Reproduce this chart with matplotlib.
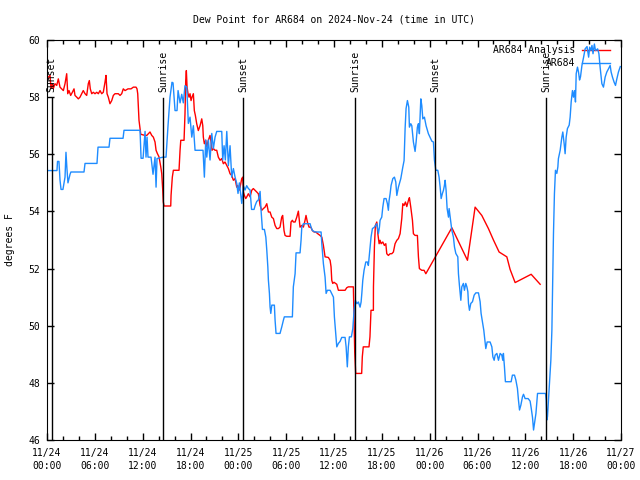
import numpy as np
import pandas as pd
import matplotlib
matplotlib.use('Agg')
import matplotlib.pyplot as plt
import matplotlib.dates as mdates
import matplotlib.transforms as mtransforms

plt.rcParams['font.family'] = ['DejaVu Sans Mono']
plt.rcParams['font.size'] = 7

start = pd.Timestamp('2024-11-24 00:00')
end = pd.Timestamp('2024-11-27 00:00')

# hours after 11/24 00:00 UTC, dew point in degrees F
analysis_h = [0.0, 0.17, 0.38, 0.5, 0.67, 0.79, 1.0, 1.22, 1.42, 1.63, 1.84, 2.05, 2.26, 2.47, 2.6,
              2.76, 2.97, 3.18, 3.39, 3.51, 3.73, 3.93, 4.14, 4.35, 4.55, 4.77, 4.98, 5.18, 5.31,
              5.43, 5.61, 5.81, 6.02, 6.24, 6.44, 6.65, 6.86, 7.06, 7.28, 7.4, 7.53, 7.69, 7.9,
              8.12, 8.32, 8.53, 8.95, 9.16, 9.37, 9.57, 9.79, 10.16, 10.54, 10.83, 11.17, 11.29,
              11.38, 11.54, 11.67, 11.76, 12.3, 12.51, 12.71, 12.92, 13.14, 13.34, 13.55, 13.68,
              13.84, 14.05, 14.27, 14.39, 14.52, 14.59, 14.68, 15.52, 15.56, 15.72, 15.85, 16.56,
              16.69, 16.78, 17.19, 17.31, 17.4, 17.48, 17.57, 17.69, 17.82, 17.94, 18.07, 18.19,
              18.36, 18.48, 18.61, 18.78, 18.98, 19.2, 19.41, 19.54, 19.61, 19.74, 19.91, 20.04,
              20.24, 20.45, 20.58, 20.7, 20.87, 21.08, 21.29, 21.49, 21.71, 21.92, 22.12, 22.33,
              22.55, 22.75, 22.96, 23.17, 23.38, 23.59, 23.8, 23.93, 24.09, 24.22, 24.43, 24.55,
              24.63, 24.76, 24.93, 25.06, 25.26, 25.47, 25.68, 25.88, 26.1, 26.31, 26.51, 26.73,
              26.94, 27.14, 27.35, 27.57, 27.77, 27.98, 28.19, 28.4, 28.61, 28.82, 29.02, 29.23,
              29.44, 29.56, 29.73, 29.86, 30.07, 30.49, 30.61, 30.78, 30.9, 31.12, 31.33, 31.53,
              31.74, 31.96, 32.16, 32.37, 32.49, 32.66, 32.87, 33.09, 33.29, 33.5, 33.71, 33.96,
              34.25, 34.47, 34.67, 34.88, 35.29, 35.51, 35.63, 35.72, 35.84, 36.0, 36.35, 36.55,
              36.97, 37.39, 37.6, 37.8, 38.43, 38.52, 38.6, 38.72, 39.47, 39.55, 39.67, 40.39,
              40.51, 40.64, 40.94, 40.95, 41.07, 41.19, 41.37, 41.5, 41.66, 41.78, 41.91, 42.12,
              42.32, 42.5, 42.62, 42.82, 43.04, 43.25, 43.45, 43.66, 43.88, 44.08, 44.29, 44.5,
              44.63, 44.79, 44.96, 45.13, 45.34, 45.46, 45.63, 45.84, 45.96, 46.17, 46.46, 46.59,
              46.71, 47.01, 47.3, 47.52, 50.78, 52.74, 53.7, 54.54, 55.37, 56.0, 56.71, 57.68,
              58.09, 58.72, 60.73, 61.86]
analysis_v = [58.6, 58.7, 58.76, 58.3, 58.47, 58.3, 58.47, 58.41, 58.64, 58.35, 58.29, 58.23, 58.47,
              58.82, 58.12, 58.23, 58.06, 58.17, 58.29, 58.06, 58.0, 57.94, 58.0, 58.12, 58.23,
              58.12, 58.06, 58.47, 58.58, 58.29, 58.12, 58.17, 58.12, 58.17, 58.12, 58.23, 58.12,
              58.17, 58.53, 58.76, 58.12, 58.0, 57.77, 57.88, 58.06, 58.12, 58.12, 58.06, 58.12,
              58.29, 58.23, 58.29, 58.29, 58.35, 58.35, 58.29, 58.12, 57.19, 56.9, 56.7, 56.66,
              56.66, 56.72, 56.78, 56.66, 56.6, 56.43, 56.14, 56.03, 55.91, 55.56, 55.33, 54.74,
              54.33, 54.19, 54.19, 54.56, 55.2, 55.44, 55.44, 56.14, 56.49, 56.49, 57.42, 58.58,
              58.93, 58.35, 58.12, 58.0, 58.12, 57.88, 58.0, 58.12, 57.53, 57.36, 57.07, 56.83,
              57.0, 57.24, 57.0, 56.6, 56.37, 56.49, 56.26, 56.49, 56.66, 56.43, 56.14, 56.2,
              56.14, 56.14, 55.9, 55.79, 55.85, 55.67, 55.73, 55.61, 55.5, 55.32, 55.26, 55.09,
              55.15, 54.85, 54.91, 54.74, 54.85, 55.15, 55.2, 54.68, 54.56, 54.45, 54.51, 54.62,
              54.51, 54.74, 54.8, 54.74, 54.68, 54.62, 54.21, 54.04, 54.1, 54.15, 54.27, 53.98,
              53.98, 53.8, 53.75, 53.51, 53.4, 53.4, 53.45, 53.8, 53.86, 53.33, 53.16, 53.13,
              53.13, 53.63, 53.69, 53.63, 53.63, 53.8, 54.01, 53.45, 53.51, 53.45, 53.69, 53.86,
              53.63, 53.45, 53.45, 53.33, 53.28, 53.28, 53.22, 53.16, 53.1, 52.81, 52.41, 52.39,
              52.29, 52.06, 51.59, 51.48, 51.52, 51.45, 51.24, 51.24, 51.24, 51.33, 51.36, 51.36,
              50.1, 49.08, 48.33, 48.33, 48.91, 49.26, 49.26, 49.61, 50.54, 50.54, 51.36, 52.76,
              53.51, 53.63, 53.22, 52.87, 52.99, 52.87, 52.93, 52.81, 52.87, 52.52, 52.46, 52.52,
              52.52, 52.58, 52.87, 52.99, 53.05, 53.22, 53.75, 54.27, 54.21, 54.33, 54.17, 54.39,
              54.48, 54.15, 53.69, 53.22, 53.16, 53.16, 52.41, 52.0, 51.94, 51.94, 51.82, 53.43,
              52.29, 54.15, 53.86, 53.4, 53.0, 52.58, 52.41, 51.97, 51.51, 51.8, 51.45]

station_h = [0.0, 0.05, 1.25, 1.32, 1.5, 1.63, 1.76, 2.0, 2.26, 2.38, 2.5, 2.63, 2.89, 3.0, 4.64,
             4.77, 6.27, 6.4, 7.78, 7.9, 9.54, 9.66, 11.67, 11.8, 12.05, 12.3, 12.42, 12.55, 12.67,
             13.05, 13.3, 13.55, 13.68, 13.8, 14.55, 14.93, 15.18, 15.43, 15.68, 15.81, 16.06,
             16.31, 16.44, 16.69, 16.9, 17.1, 17.31, 17.53, 17.73, 17.94, 18.16, 18.36, 18.57,
             19.57, 19.61, 19.74, 19.91, 20.04, 20.24, 20.45, 20.67, 20.87, 21.08, 21.29, 21.92,
             22.04, 22.21, 22.37, 22.55, 22.75, 22.96, 23.17, 23.38, 23.59, 23.8, 23.96, 24.13,
             24.43, 24.63, 24.84, 25.05, 25.26, 25.47, 25.66, 25.97, 26.1, 26.31, 26.51, 26.73,
             26.85, 27.02, 27.27, 27.45, 27.57, 27.7, 27.77, 27.9, 27.98, 28.07, 28.2, 28.52,
             28.61, 28.73, 29.23, 29.45, 29.65, 29.77, 30.78, 30.9, 31.12, 31.24, 31.74, 31.87,
             31.96, 32.16, 33.0, 33.12, 33.29, 33.63, 34.38, 34.47, 34.67, 34.88, 35.01, 35.17,
             35.51, 35.93, 36.05, 36.35, 36.55, 36.76, 36.97, 37.39, 37.52, 37.6, 37.67, 37.8,
             37.93, 38.18, 38.36, 38.52, 38.68, 38.86, 39.06, 39.27, 39.4, 39.49, 39.61, 39.77,
             39.99, 40.19, 40.31, 40.44, 40.53, 40.65, 40.82, 41.07, 41.37, 41.57, 41.7, 41.78,
             41.99, 42.12, 42.28, 42.53, 42.7, 42.82, 42.91, 43.04, 43.16, 43.38, 43.58, 43.75,
             43.88, 44.08, 44.2, 44.38, 44.63, 44.79, 44.92, 45.04, 45.21, 45.38, 45.46, 45.63,
             45.76, 45.96, 46.17, 46.3, 46.46, 46.59, 46.71, 46.89, 47.01, 47.14, 47.34, 47.55,
             47.84, 48.27, 48.47, 48.6, 48.77, 49.02, 49.18, 49.31, 49.44, 49.6, 49.73, 49.85,
             49.94, 50.06, 50.19, 50.36, 50.44, 50.57, 50.78, 50.98, 51.11, 51.28, 51.53, 51.61,
             51.73, 51.91, 52.03, 52.23, 52.36, 52.53, 52.67, 52.79, 52.87, 52.99, 53.16, 53.37,
             53.58, 53.79, 54.12, 54.33, 54.45, 54.62, 54.79, 54.96, 55.04, 55.21, 55.58, 55.8,
             55.93, 56.09, 56.21, 56.43, 56.63, 56.84, 57.05, 57.17, 57.25, 57.38, 57.5, 58.22,
             58.38, 58.64, 58.81, 59.01, 59.14, 59.27, 59.44, 59.64, 59.77, 59.97, 60.35, 60.6,
             60.73, 60.9, 61.03, 61.15, 61.33, 61.53, 62.53, 62.62, 62.7, 62.78, 62.9, 63.03,
             63.2, 63.33, 63.45, 63.53, 63.65, 63.78, 63.95, 64.08, 64.15, 64.37, 64.58, 64.7,
             64.87, 64.99, 65.12, 65.28, 65.5, 65.62, 65.75, 65.91, 66.04, 66.17, 66.29, 66.38,
             66.54, 66.67, 66.8, 66.92, 67.1, 67.31, 67.5, 67.74, 67.94, 68.07, 68.22, 68.36,
             68.49, 68.66, 68.8, 69.07, 69.23, 69.38, 69.6, 69.8, 70.01, 70.22, 70.43, 70.64,
             70.76, 70.93, 71.14, 71.31, 71.48, 71.68, 71.91]
station_v = [56.2, 55.43, 55.43, 55.75, 55.75, 55.1, 54.77, 54.77, 55.2, 56.07, 55.5, 55.0, 55.3,
             55.38, 55.38, 55.68, 55.68, 56.25, 56.25, 56.56, 56.56, 56.84, 56.84, 55.86, 55.86,
             56.8, 55.9, 56.6, 55.9, 55.9, 55.3, 55.9, 54.85, 55.85, 55.9, 55.9, 57.0, 58.0,
             58.52, 58.5, 57.53, 57.53, 58.23, 57.8, 58.1, 57.8, 58.4, 58.35, 57.08, 57.3, 56.6,
             57.0, 56.14, 56.14, 55.9, 55.2, 56.5, 55.9, 56.5, 55.8, 56.73, 56.2, 56.6, 56.8,
             56.8, 55.8, 56.3, 55.8, 56.8, 55.6, 56.3, 55.2, 55.5, 55.2, 54.98, 54.63, 55.0,
             54.28, 54.9, 54.75, 54.9, 54.8, 54.75, 54.07, 54.07, 54.2, 54.35, 54.4, 54.7, 54.04,
             53.37, 53.37, 53.1, 52.64, 52.06, 51.6, 51.13, 50.66, 50.43, 50.72, 50.72, 50.19,
             49.73, 49.73, 49.96, 50.19, 50.31, 50.31, 51.36, 51.82, 52.55, 52.55, 53.0, 53.45,
             53.57, 53.57, 53.45, 53.33, 53.28, 53.28, 52.87, 52.17, 51.7, 51.13, 51.24, 51.24,
             51.0, 50.31, 49.26, 49.38, 49.45, 49.59, 49.59, 49.26, 48.91, 48.56, 49.26, 49.61,
             49.61, 49.9, 50.54, 50.89, 50.77, 50.83, 50.65, 50.83, 51.13, 51.59, 51.94, 52.23,
             52.23, 52.11, 52.5, 52.76, 53.11, 53.4, 53.45, 53.57, 53.22, 53.45, 53.69, 53.8,
             54.15, 54.45, 54.45, 54.27, 54.04, 54.38, 54.62, 54.91, 55.15, 55.2, 55.03, 54.56,
             54.85, 54.97, 55.15, 55.55, 55.78, 56.9, 57.6, 57.88, 57.65, 56.95, 57.07, 57.0,
             56.43, 56.1, 56.43, 56.95, 57.07, 56.72, 57.94, 57.71, 57.24, 57.3, 57.0, 56.72,
             56.46, 56.43, 55.79, 55.44, 55.44, 55.2, 54.86, 54.45, 54.63, 54.74, 54.91, 55.09,
             54.74, 54.1, 53.8, 54.1, 53.8, 53.34, 53.1, 52.76, 52.53, 52.41, 51.82, 51.42, 50.89,
             51.36, 51.48, 51.24, 51.48, 51.36, 51.19, 50.78, 50.54, 50.78, 50.84, 51.07, 51.15,
             51.15, 50.84, 50.43, 50.14, 49.84, 49.38, 49.2, 49.43, 49.43, 49.26, 48.91, 48.79,
             48.97, 49.03, 48.79, 49.03, 48.97, 48.79, 49.03, 48.56, 48.04, 48.04, 48.27, 48.27,
             48.1, 47.8, 47.39, 47.05, 47.22, 47.51, 47.6, 47.45, 47.45, 47.36, 47.13, 46.79,
             46.35, 46.58, 46.93, 47.63, 47.63, 47.39, 46.7, 46.82, 47.39, 47.98, 48.79, 49.84,
             51.94, 53.22, 54.62, 55.44, 55.33, 55.56, 55.85, 56.14, 56.6, 56.78, 56.37, 56.02,
             56.6, 56.9, 57.02, 57.3, 57.83, 58.23, 58.0, 58.23, 57.83, 58.82, 59.05, 58.88, 58.6,
             58.71, 59.11, 59.4, 59.69, 59.77, 59.4, 59.75, 59.63, 59.81, 59.52, 59.86, 59.63,
             59.69, 59.52, 59.05, 58.47, 58.35, 58.7, 58.88, 58.99, 59.11, 58.88, 58.7, 58.52,
             58.41, 58.64, 58.88, 59.07]

sun_h = [0.59, 14.6, 24.63, 38.68, 48.72, 62.65]
sun_labels = ['Sunset', 'Sunrise', 'Sunset', 'Sunrise', 'Sunset', 'Sunrise']


def to_time(hours):
    return start + pd.to_timedelta(np.array(hours), unit='h')


fig = plt.figure(figsize=(6.4, 4.8), dpi=100)
ax = fig.add_axes([47 / 640, 40 / 480, 574 / 640, 400 / 480])

ax.plot(to_time(analysis_h), analysis_v, color='#ff0000', lw=1, zorder=2)
ax.plot(to_time(station_h), station_v, color='#1e8cff', lw=1, zorder=2.1)

trans = mtransforms.blended_transform_factory(ax.transData, ax.transAxes)
for t, lab in zip(to_time(sun_h), sun_labels):
    ax.axvline(t, ymin=0, ymax=0.854, color='black', lw=1, zorder=3)
    ax.text(t, 0.869, lab, rotation=90, ha='center', va='bottom', transform=trans)

ax.set_xlim(start, end)
ax.set_ylim(46, 60)
ax.set_yticks(np.arange(46, 61, 2))
ax.xaxis.set_major_locator(mdates.HourLocator(byhour=range(0, 24, 6)))
ax.xaxis.set_minor_locator(mdates.HourLocator(byhour=range(0, 24, 2)))
ax.xaxis.set_major_formatter(mdates.DateFormatter('%m/%d\n%H:%M'))
ax.tick_params(which='both', direction='in', top=True, right=True, width=1)
ax.tick_params(which='major', length=5)
ax.tick_params(which='minor', length=3)
ax.tick_params(axis='x', pad=6)
ax.tick_params(axis='y', pad=5)
for lbl in ax.get_xticklabels():
    lbl.set_linespacing(1.3)

# gnuplot style key, right aligned
ax.text(0.920, 0.9755, 'AR684 Analysis', ha='right', va='center', transform=ax.transAxes)
ax.plot([0.932, 0.981], [0.9755, 0.9755], color='#ff0000', lw=1, transform=ax.transAxes)
ax.text(0.920, 0.943, 'AR684', ha='right', va='center', transform=ax.transAxes)
ax.plot([0.932, 0.981], [0.943, 0.943], color='#1e8cff', lw=1, transform=ax.transAxes)

fig.text(334 / 640, 1 - 20 / 480, 'Dew Point for AR684 on 2024-Nov-24 (time in UTC)',
         ha='center', va='center')
fig.text(10 / 640, 0.5, 'degrees F', rotation=90, ha='center', va='center')

fig.savefig('out.png', dpi=100)
